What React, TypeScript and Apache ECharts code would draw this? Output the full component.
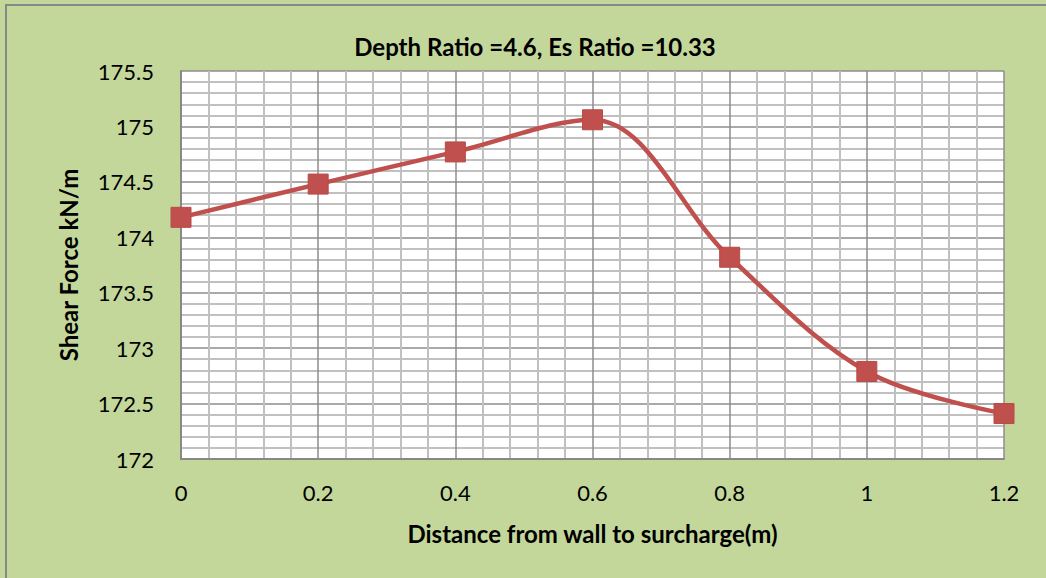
import React, { useEffect, useRef } from "react";
import * as echarts from "echarts";

const xValues = [0, 0.2, 0.4, 0.6, 0.8, 1, 1.2];
const shearForce = [174.18, 174.48, 174.77, 175.06, 173.82, 172.79, 172.41];
const titleText = "Depth Ratio =4.6, Es Ratio =10.33";
const xName = "Distance from wall to surcharge(m)";
const yName = "Shear Force kN/m";

const FONT = "Lato, 'Open Sans', sans-serif";

export default function App() {
  const ref = useRef<HTMLDivElement>(null);
  useEffect(() => {
    if (!ref.current) return;
    const chart = echarts.init(ref.current, null, { renderer: "svg" });
    chart.setOption({
      animation: false,
      backgroundColor: "#c4d79b",
      title: {
        text: titleText,
        left: 530,
        top: 29,
        textAlign: "center",
        textStyle: { fontFamily: FONT, fontSize: 24, fontWeight: "bold", color: "#000" },
      },
      graphic: [
        {
          type: "rect",
          shape: { x: 6, y: 5, width: 1100, height: 700 },
          style: { fill: "none", stroke: "#888", lineWidth: 2 },
          silent: true,
        },
      ],
      grid: { left: 181, top: 71, right: 42, bottom: 119, containLabel: false, show: true, backgroundColor: "#fff", borderWidth: 0 },
      xAxis: {
        type: "value",
        min: 0,
        max: 1.2,
        interval: 0.2,
        name: xName,
        nameLocation: "middle",
        nameGap: 62,
        nameTextStyle: { fontFamily: FONT, fontSize: 24, fontWeight: "bold", color: "#000" },
        axisLine: { show: true, lineStyle: { color: "#888", width: 2 } },
        axisTick: { show: false },
        axisLabel: { fontFamily: FONT, fontSize: 22, color: "#000", margin: 22 },
        splitLine: { show: true, lineStyle: { color: "#8c8c8c", width: 1.5 } },
        minorTick: { show: false, splitNumber: 5 },
        minorSplitLine: { show: true, lineStyle: { color: "#c0c0c0", width: 2 } },
      },
      yAxis: {
        type: "value",
        min: 172,
        max: 175.5,
        interval: 0.5,
        name: yName,
        nameLocation: "middle",
        nameGap: 101,
        nameTextStyle: { fontFamily: FONT, fontSize: 24, fontWeight: "bold", color: "#000" },
        axisLine: { show: true, lineStyle: { color: "#888", width: 2 } },
        axisTick: { show: false },
        axisLabel: { fontFamily: FONT, fontSize: 22, color: "#000", margin: 27 },
        splitLine: { show: true, lineStyle: { color: "#8c8c8c", width: 1.5 } },
        minorTick: { show: false, splitNumber: 5 },
        minorSplitLine: { show: true, lineStyle: { color: "#c0c0c0", width: 2 } },
      },
      series: [
        {
          type: "line",
          data: xValues.map((x, i) => [x, shearForce[i]]),
          smooth: 0.35,
          symbol: "rect",
          symbolSize: 20,
          lineStyle: { color: "#c0504d", width: 4.5 },
          itemStyle: { color: "#c0504d", borderColor: "#b84a47", borderWidth: 1 },
        },
      ],
    });
    return () => chart.dispose();
  }, []);
  return <div ref={ref} style={{ position: "fixed", left: 0, top: 0, width: 1046, height: 578 }} />;
}
